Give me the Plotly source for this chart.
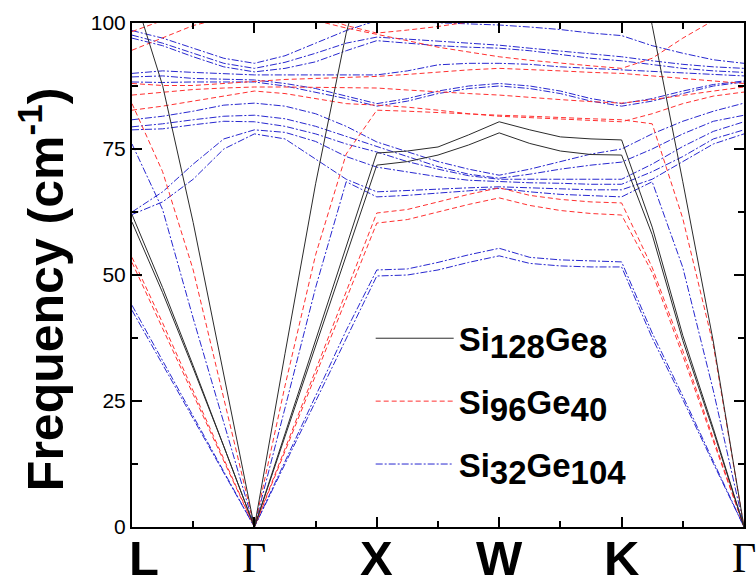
import numpy as np
import plotly.graph_objects as go

# High-symmetry points along the path
kpoints = ["L", "Γ", "X", "W", "K", "Γ"]
samples_per_segment = 4  # values read at quarter steps of each segment

# ---- Si128Ge8 (black, solid) ----
si128_ta1 = [60.5, 46.5, 31.5, 16, 0, 18, 36, 54, 71.8, 72.5, 73.8, 75.8, 78.2, 76.1, 74.6, 73.9, 73.8, 58, 37, 19, 0]
si128_ta2 = [62, 47.5, 32, 16.2, 0, 18.5, 37, 55.5, 74.2, 74.6, 75.4, 77.8, 80.4, 78.8, 77.4, 77, 76.8, 59.5, 38, 19.5, 0]
si128_la = [107, 87.6, 60.4, 30.5, 0, 34.4, 68.1, 98, 120, 122, 124, 126, 128, 129, 130, 130, 130, 99.5, 68.5, 36.7, 0]

# ---- Si96Ge40 (red, dashed) ----
si96_ta1 = [53.5, 40.5, 27, 13.5, 0, 15.5, 31, 46.5, 62.3, 63, 64.5, 66, 67.3, 65.8, 65, 64.5, 64.3, 51.5, 35, 17.5, 0]
si96_ta2 = [52.5, 39.5, 26.3, 13.1, 0, 15, 30, 45, 60.3, 61, 62.5, 64, 65.3, 63.8, 62.8, 62.2, 61.9, 50.5, 34, 17, 0]
si96_la = [84, 70.5, 51, 25.5, 0, 28, 54, 74, 82.7, 82.5, 82.2, 82, 81.7, 81.5, 81.2, 81, 80.8, 80, 61.2, 36, 0]
si96_o1 = [98.3, 100.5, 102, 103, 104, 103, 101.5, 99.5, 98, 98.6, 99.3, 100.2, 101, 102, 103, 103, 103, 103, 103, 103, 103]
si96_o2 = [94.6, 97, 99.5, 101, 102, 101.5, 100.5, 99, 97.8, 96.5, 95.2, 94.2, 93.3, 92.6, 92, 91.5, 91, 93, 97, 100.5, 103]
si96_o3 = [88, 87.6, 87.6, 88, 88.5, 88.8, 89, 89.2, 89.4, 89.8, 90.3, 90.7, 91, 90.8, 90.5, 90.2, 90, 89.5, 89, 88.5, 88]
si96_o4 = [85.7, 86.2, 86.8, 87.1, 87.3, 87.3, 87.2, 87.1, 87.1, 86.7, 86.3, 86, 85.7, 85.2, 84.8, 84.4, 84.1, 84.8, 85.7, 86.5, 87.3]
si96_o5 = [82.7, 83.5, 84.5, 85.5, 86.5, 86, 85, 84, 83.7, 83.3, 82.7, 82, 81.5, 81.2, 80.9, 80.6, 80.4, 82, 84, 85.5, 86.3]

# ---- Si32Ge104 (blue, dash-dot) ----
si32_ta1 = [44, 33, 22, 11, 0, 13, 26, 39, 51, 51.2, 52.5, 54, 55.3, 53.5, 53, 52.8, 52.6, 38.5, 26, 13, 0]
si32_ta2 = [43, 32.3, 21.5, 10.8, 0, 12.5, 25, 37.5, 49.8, 50, 51, 52.5, 53.8, 52.3, 51.8, 51.6, 51.6, 37.5, 25.3, 12.6, 0]
si32_la = [76, 63, 41.4, 20.5, 0, 23.6, 47.5, 68.5, 65.5, 65.8, 66.2, 66.7, 67.2, 66.5, 66, 65.7, 65.5, 68.5, 51.5, 27, 0]
si32_o1 = [98.5, 97, 95, 93, 92, 93.5, 96, 98.5, 100.5, 100.3, 100, 99.8, 99.6, 99.2, 98.7, 98, 97.5, 95.5, 94, 92.7, 92]
si32_o2 = [97.6, 96, 94, 92, 91, 92.2, 94, 96, 97.2, 96.8, 96.3, 96, 95.6, 95, 94.4, 93.8, 93.3, 92.5, 91.8, 91.3, 91]
si32_o3 = [97, 95.5, 93.3, 91.3, 90.3, 91, 92.3, 94.5, 96.5, 96, 95.5, 95.2, 95, 94.5, 93.8, 93, 92.5, 91.8, 91, 90.5, 90.2]
si32_o4 = [90, 90.5, 90.2, 89.9, 89.7, 89.7, 89.7, 89.7, 89.7, 90.5, 91.7, 92, 92, 91.8, 91.3, 91, 90.7, 90.3, 90, 89.7, 89.5]
si32_o5 = [89.3, 89.5, 89, 88.8, 88.7, 88, 87, 85.5, 84, 85, 86.5, 87.5, 88, 87.5, 86.5, 85, 84, 85, 86.5, 87.8, 88.5]
si32_o6 = [88.3, 88.2, 88.3, 88.3, 88.3, 87.5, 86.3, 85, 83.5, 84.5, 86, 87, 87.5, 87, 86, 84.5, 83.5, 84.5, 86, 87.5, 88.3]
si32_o7 = [80.8, 81.5, 82.5, 83.7, 84.1, 83.5, 82, 79.5, 76.4, 74.5, 72.5, 71, 69.8, 71, 72.5, 74, 75, 78, 80.5, 82.5, 84.1]
si32_o8 = [79.4, 80, 80.8, 81.5, 81.7, 81, 79.5, 77.5, 75.4, 73.5, 71.5, 70, 69.2, 70, 71, 71.8, 72.4, 75, 78, 80.5, 81.7]
si32_o9 = [78.8, 79, 79.8, 80.5, 80.4, 79.5, 78, 76, 74.4, 72.5, 71, 69.7, 69, 69, 69, 69, 69, 72, 75.5, 78.5, 80.4]
si32_o10 = [62.5, 66.5, 72, 77, 78.8, 78.3, 76.5, 73.5, 71.4, 70.5, 69.5, 68.8, 68.5, 68.3, 68.2, 68, 68, 70.5, 73.5, 77, 78.8]
si32_o11 = [62, 64.5, 69, 75, 78, 77, 73, 69, 66.5, 66.8, 67, 67.3, 67.5, 67.3, 67, 66.9, 66.9, 69, 72.5, 76, 78]

# legend names: (element, count) pairs
compositions = [[("Si", "128"), ("Ge", "8")],
                [("Si", "96"), ("Ge", "40")],
                [("Si", "32"), ("Ge", "104")]]
band_sets = [
    [si128_ta1, si128_ta2, si128_la],
    [si96_o5, si96_o4, si96_o3, si96_o2, si96_o1, si96_la, si96_ta2, si96_ta1],
    [si32_o11, si32_o10, si32_o9, si32_o8, si32_o7, si32_o6, si32_o5,
     si32_o4, si32_o3, si32_o2, si32_o1, si32_la, si32_ta2, si32_ta1],
]
styles = [
    dict(color="#2b2b2b", width=1, dash="solid"),
    dict(color="#ff3030", width=1, dash="5px,3px"),
    dict(color="#2828d0", width=1, dash="7px,2px,2px,2px"),
]

LEG_SIZE = 33


def formula(parts):
    return "".join(f"{el}<sub><span style='font-size:{LEG_SIZE}px'>{n}</span></sub>" for el, n in parts)


nseg = len(kpoints) - 1
q = np.linspace(0, nseg, nseg * samples_per_segment + 1)

fig = go.Figure()
items = list(enumerate(zip(compositions, band_sets, styles)))
# draw blue first, then red, then black on top; legend keeps the listed order
for rank, (parts, bands, st) in reversed(items):
    name = formula(parts)
    for i, band in enumerate(bands):
        fig.add_trace(go.Scatter(
            x=q, y=band, mode="lines", line=st, name=name,
            legendgroup=name, legendrank=rank + 1,
            showlegend=(i == len(bands) - 1),
            hoverinfo="skip",
        ))

axis_common = dict(
    showline=True, linecolor="black", linewidth=2, mirror="allticks",
    ticks="inside", ticklen=10, tickwidth=2, tickcolor="black",
    showgrid=False, zeroline=False,
)
fig.update_xaxes(
    range=[0, nseg], tickvals=list(range(len(kpoints))), showticklabels=False,
    minor=dict(tickvals=[i + 0.5 for i in range(nseg)], ticks="inside", ticklen=6,
               tickwidth=2, tickcolor="black", showgrid=False),
    **axis_common,
)
fig.update_yaxes(
    range=[0, 100], tickvals=[0, 25, 50, 75, 100],
    tickfont=dict(family="Liberation Sans, Arial", size=21, color="black"),
    minor=dict(tickvals=[12.5, 37.5, 62.5, 87.5], ticks="inside", ticklen=6,
               tickwidth=2, tickcolor="black", showgrid=False),
    **axis_common,
)

annotations = []
for i, lab in enumerate(kpoints):
    greek = lab == "Γ"
    annotations.append(dict(
        x=i, y=0, xref="x", yref="paper", text=lab, showarrow=False,
        xanchor="left" if i == 0 else "center", xshift=-5 if i == 0 else 0,
        yanchor="top", yshift=-2 if not greek else -6,
        font=dict(family="Liberation Serif, Times New Roman" if greek else "Liberation Sans, Arial",
                  size=42 if greek else 49, color="black",
                  weight="normal" if greek else "bold"),
    ))
annotations.append(dict(
    x=-0.147, y=0.47, xref="paper", yref="paper", showarrow=False,
    text="Frequency (cm<sup>-1</sup>)", textangle=-90,
    xanchor="center", yanchor="middle",
    font=dict(family="Liberation Sans, Arial", size=50, color="black", weight="bold"),
))

fig.update_layout(
    width=756, height=582,
    margin=dict(l=132, r=10, t=23, b=55),
    paper_bgcolor="white", plot_bgcolor="white",
    annotations=annotations,
    legend=dict(
        x=0.39, y=0.43, xanchor="left", yanchor="top",
        bgcolor="rgba(255,255,255,0)", itemwidth=78, tracegroupgap=17,
        font=dict(family="Liberation Sans, Arial", size=LEG_SIZE, color="black", weight="bold"),
        traceorder="grouped",
    ),
)

fig.write_html("out.html")
